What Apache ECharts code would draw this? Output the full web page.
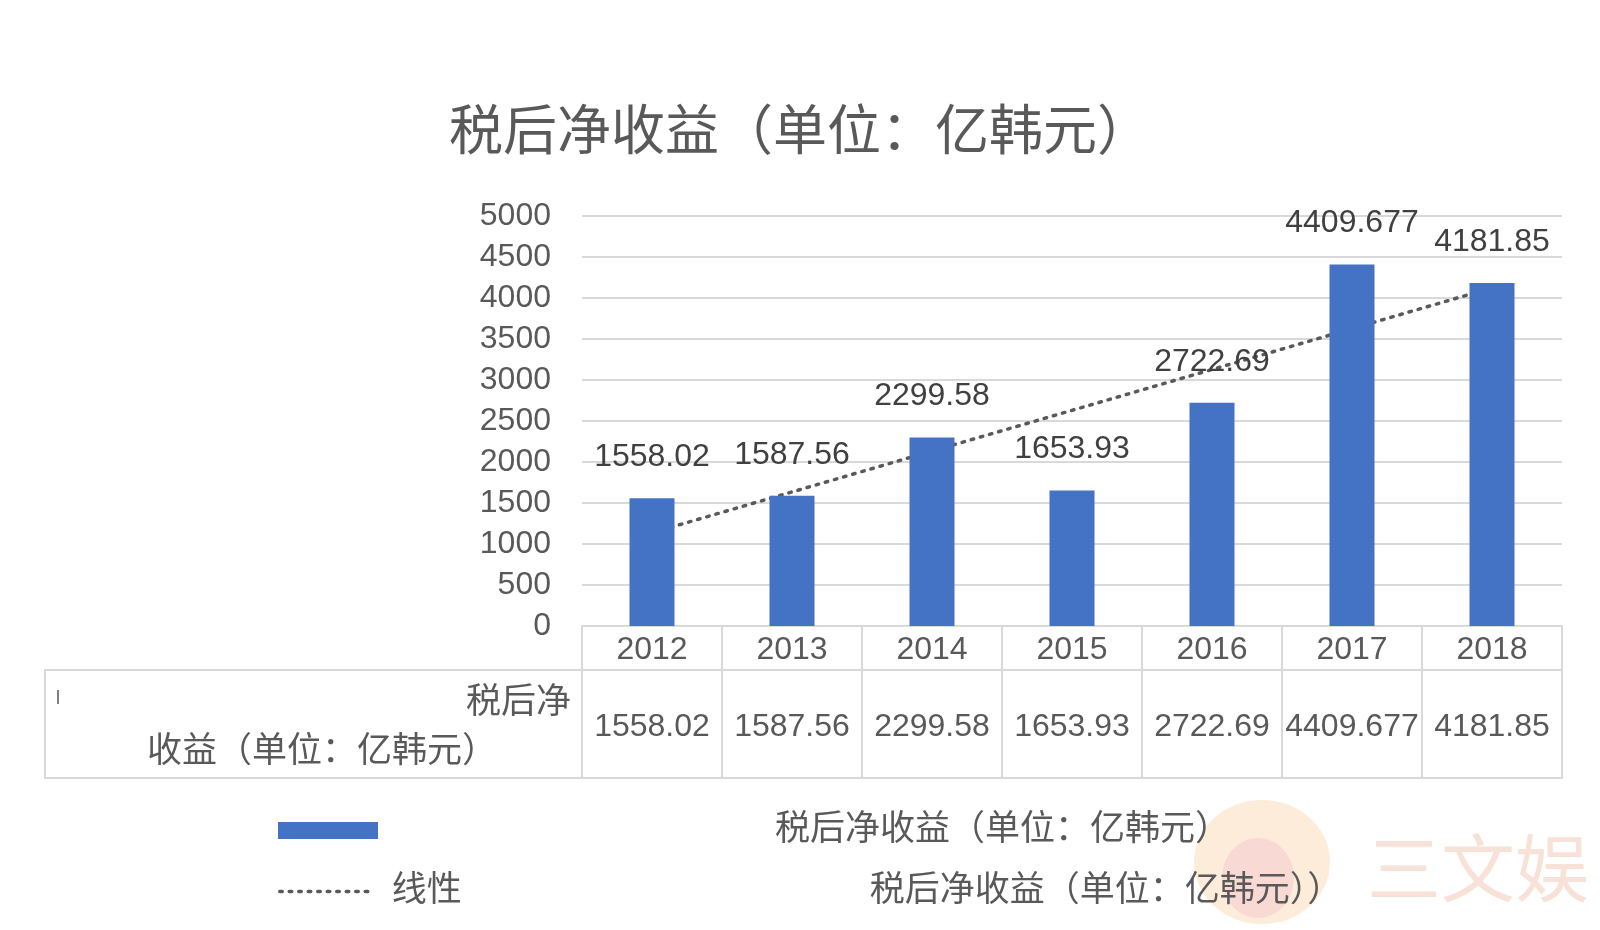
<!DOCTYPE html>
<html>
<head>
<meta charset="utf-8">
<script src="https://cdn.jsdelivr.net/npm/echarts@6/dist/echarts.min.js"></script>
<style>
html,body{margin:0;padding:0;background:#fff;}
#chart{width:1600px;height:930px;}
</style>
</head>
<body>
<div id="chart"></div>
<script>
const titleText = '税后净收益（单位：亿韩元）';
const years = ['2012', '2013', '2014', '2015', '2016', '2017', '2018'];
const netIncome = [1558.02, 1587.56, 2299.58, 1653.93, 2722.69, 4409.677, 4181.85];
const trendValues = [1137, 1635, 2133, 2630, 3128, 3626, 4124];
const seriesName = '税后净收益（单位：亿韩元）';
const trendName = '线性 (税后净收益（单位：亿韩元）)';
const yMin = 0, yMax = 5000, yStep = 500;

const FONT = '"Liberation Sans", "Noto Sans CJK SC", sans-serif';
const GRID_C = '#d9d9d9';
const TXT = '#595959';

const chart = echarts.init(document.getElementById('chart'), null, {renderer: 'canvas'});
chart.setOption({
  backgroundColor: '#ffffff',
  animation: false,
  textStyle: {fontFamily: FONT},
  title: {
    text: titleText,
    left: 'center',
    top: 103,
    textStyle: {fontSize: 54, fontWeight: 'normal', color: TXT, fontFamily: FONT}
  },
  grid: [
    {left: 582, top: 216, width: 980, height: 410, show: false},
    {left: 582, top: 670, width: 980, height: 108, show: true, borderColor: GRID_C, borderWidth: 2, backgroundColor: 'transparent'}
  ],
  xAxis: [
    {
      gridIndex: 0, type: 'category', data: years,
      axisLine: {show: true, lineStyle: {color: GRID_C, width: 2}},
      axisTick: {show: true, length: 45, interval: 0, lineStyle: {color: GRID_C, width: 2}},
      axisLabel: {fontSize: 32, color: TXT, margin: 8, interval: 0}
    },
    {
      gridIndex: 1, type: 'category', position: 'top',
      data: netIncome.map(v => String(v)),
      axisLine: {show: false}, axisTick: {show: false},
      axisLabel: {inside: true, fontSize: 32, color: TXT, margin: 57, verticalAlign: 'middle', interval: 0},
      splitLine: {show: true, interval: 0, lineStyle: {color: GRID_C, width: 2}}
    }
  ],
  yAxis: [
    {
      gridIndex: 0, type: 'value', min: yMin, max: yMax, interval: yStep,
      axisLine: {show: false}, axisTick: {show: false},
      axisLabel: {fontSize: 32, color: TXT, margin: 31, formatter: v => String(v)},
      splitLine: {show: true, lineStyle: {color: GRID_C, width: 2}}
    },
    {gridIndex: 1, type: 'value', show: false, min: 0, max: 1}
  ],
  legend: [
    {
      data: [seriesName], left: 273, top: 808, itemWidth: 100, itemHeight: 17, icon: 'rect',
      selectedMode: false,
      formatter: n => '{n|' + n + '}',
      textStyle: {color: TXT, fontSize: 35, rich: {n: {fontSize: 35, color: TXT, padding: [0, 0, 0, 392]}}}
    },
    {
      data: [trendName], left: 273, top: 869, itemWidth: 94, itemHeight: 17,
      selectedMode: false,
      itemStyle: {color: 'rgba(0,0,0,0)', borderWidth: 0},
      lineStyle: {color: '#595959', width: 3.5, type: [2.5, 7], cap: 'round'},
      formatter: () => '{a|线性}{b|税后净收益（单位：亿韩元））}',
      textStyle: {color: TXT, fontSize: 35, rich: {
        a: {fontSize: 35, color: TXT, padding: [0, 0, 0, 13]},
        b: {fontSize: 35, color: TXT, padding: [0, 0, 0, 408]}
      }}
    }
  ],
  series: [
    {
      name: trendName, type: 'line', xAxisIndex: 0, yAxisIndex: 0,
      data: trendValues, symbol: 'none', z: 1, silent: true,
      lineStyle: {color: '#595959', width: 3.5, type: [2.5, 7], cap: 'round'},
      itemStyle: {color: '#595959'}
    },
    {
      name: seriesName, type: 'bar', xAxisIndex: 0, yAxisIndex: 0,
      data: netIncome, barWidth: 45, z: 2,
      itemStyle: {color: '#4472C4'},
      label: {show: true, position: 'top', distance: 25, fontSize: 32, color: '#404040', fontFamily: FONT}
    }
  ],
  graphic: [
    {type: 'rect', shape: {x: 45, y: 670, width: 537, height: 108}, style: {fill: 'none', stroke: GRID_C, lineWidth: 2}, silent: true},
    {type: 'rect', shape: {x: 57, y: 690, width: 2, height: 14}, style: {fill: '#7f7f7f'}, silent: true},
    {type: 'text', x: 571, y: 700, style: {text: '税后净', fill: TXT, align: 'right', verticalAlign: 'middle', font: '35px "Noto Sans CJK SC", sans-serif'}, silent: true},
    {type: 'text', x: 147, y: 749, style: {text: '收益（单位：亿韩元）', fill: TXT, align: 'left', verticalAlign: 'middle', font: '35px "Noto Sans CJK SC", sans-serif'}, silent: true},
    {type: 'ellipse', shape: {cx: 1262, cy: 862, rx: 68, ry: 62}, style: {fill: 'rgba(245,185,120,0.28)'}, silent: true, z: -1},
    {type: 'ellipse', shape: {cx: 1258, cy: 878, rx: 36, ry: 40}, style: {fill: 'rgba(240,150,190,0.22)'}, silent: true, z: -1},
    {type: 'text', x: 1367, y: 868, style: {text: '三文娱', fill: 'rgba(235,170,140,0.35)', align: 'left', verticalAlign: 'middle', font: '74px "Noto Sans CJK SC", sans-serif'}, silent: true, z: -1}
  ]
});
</script>
</body>
</html>
